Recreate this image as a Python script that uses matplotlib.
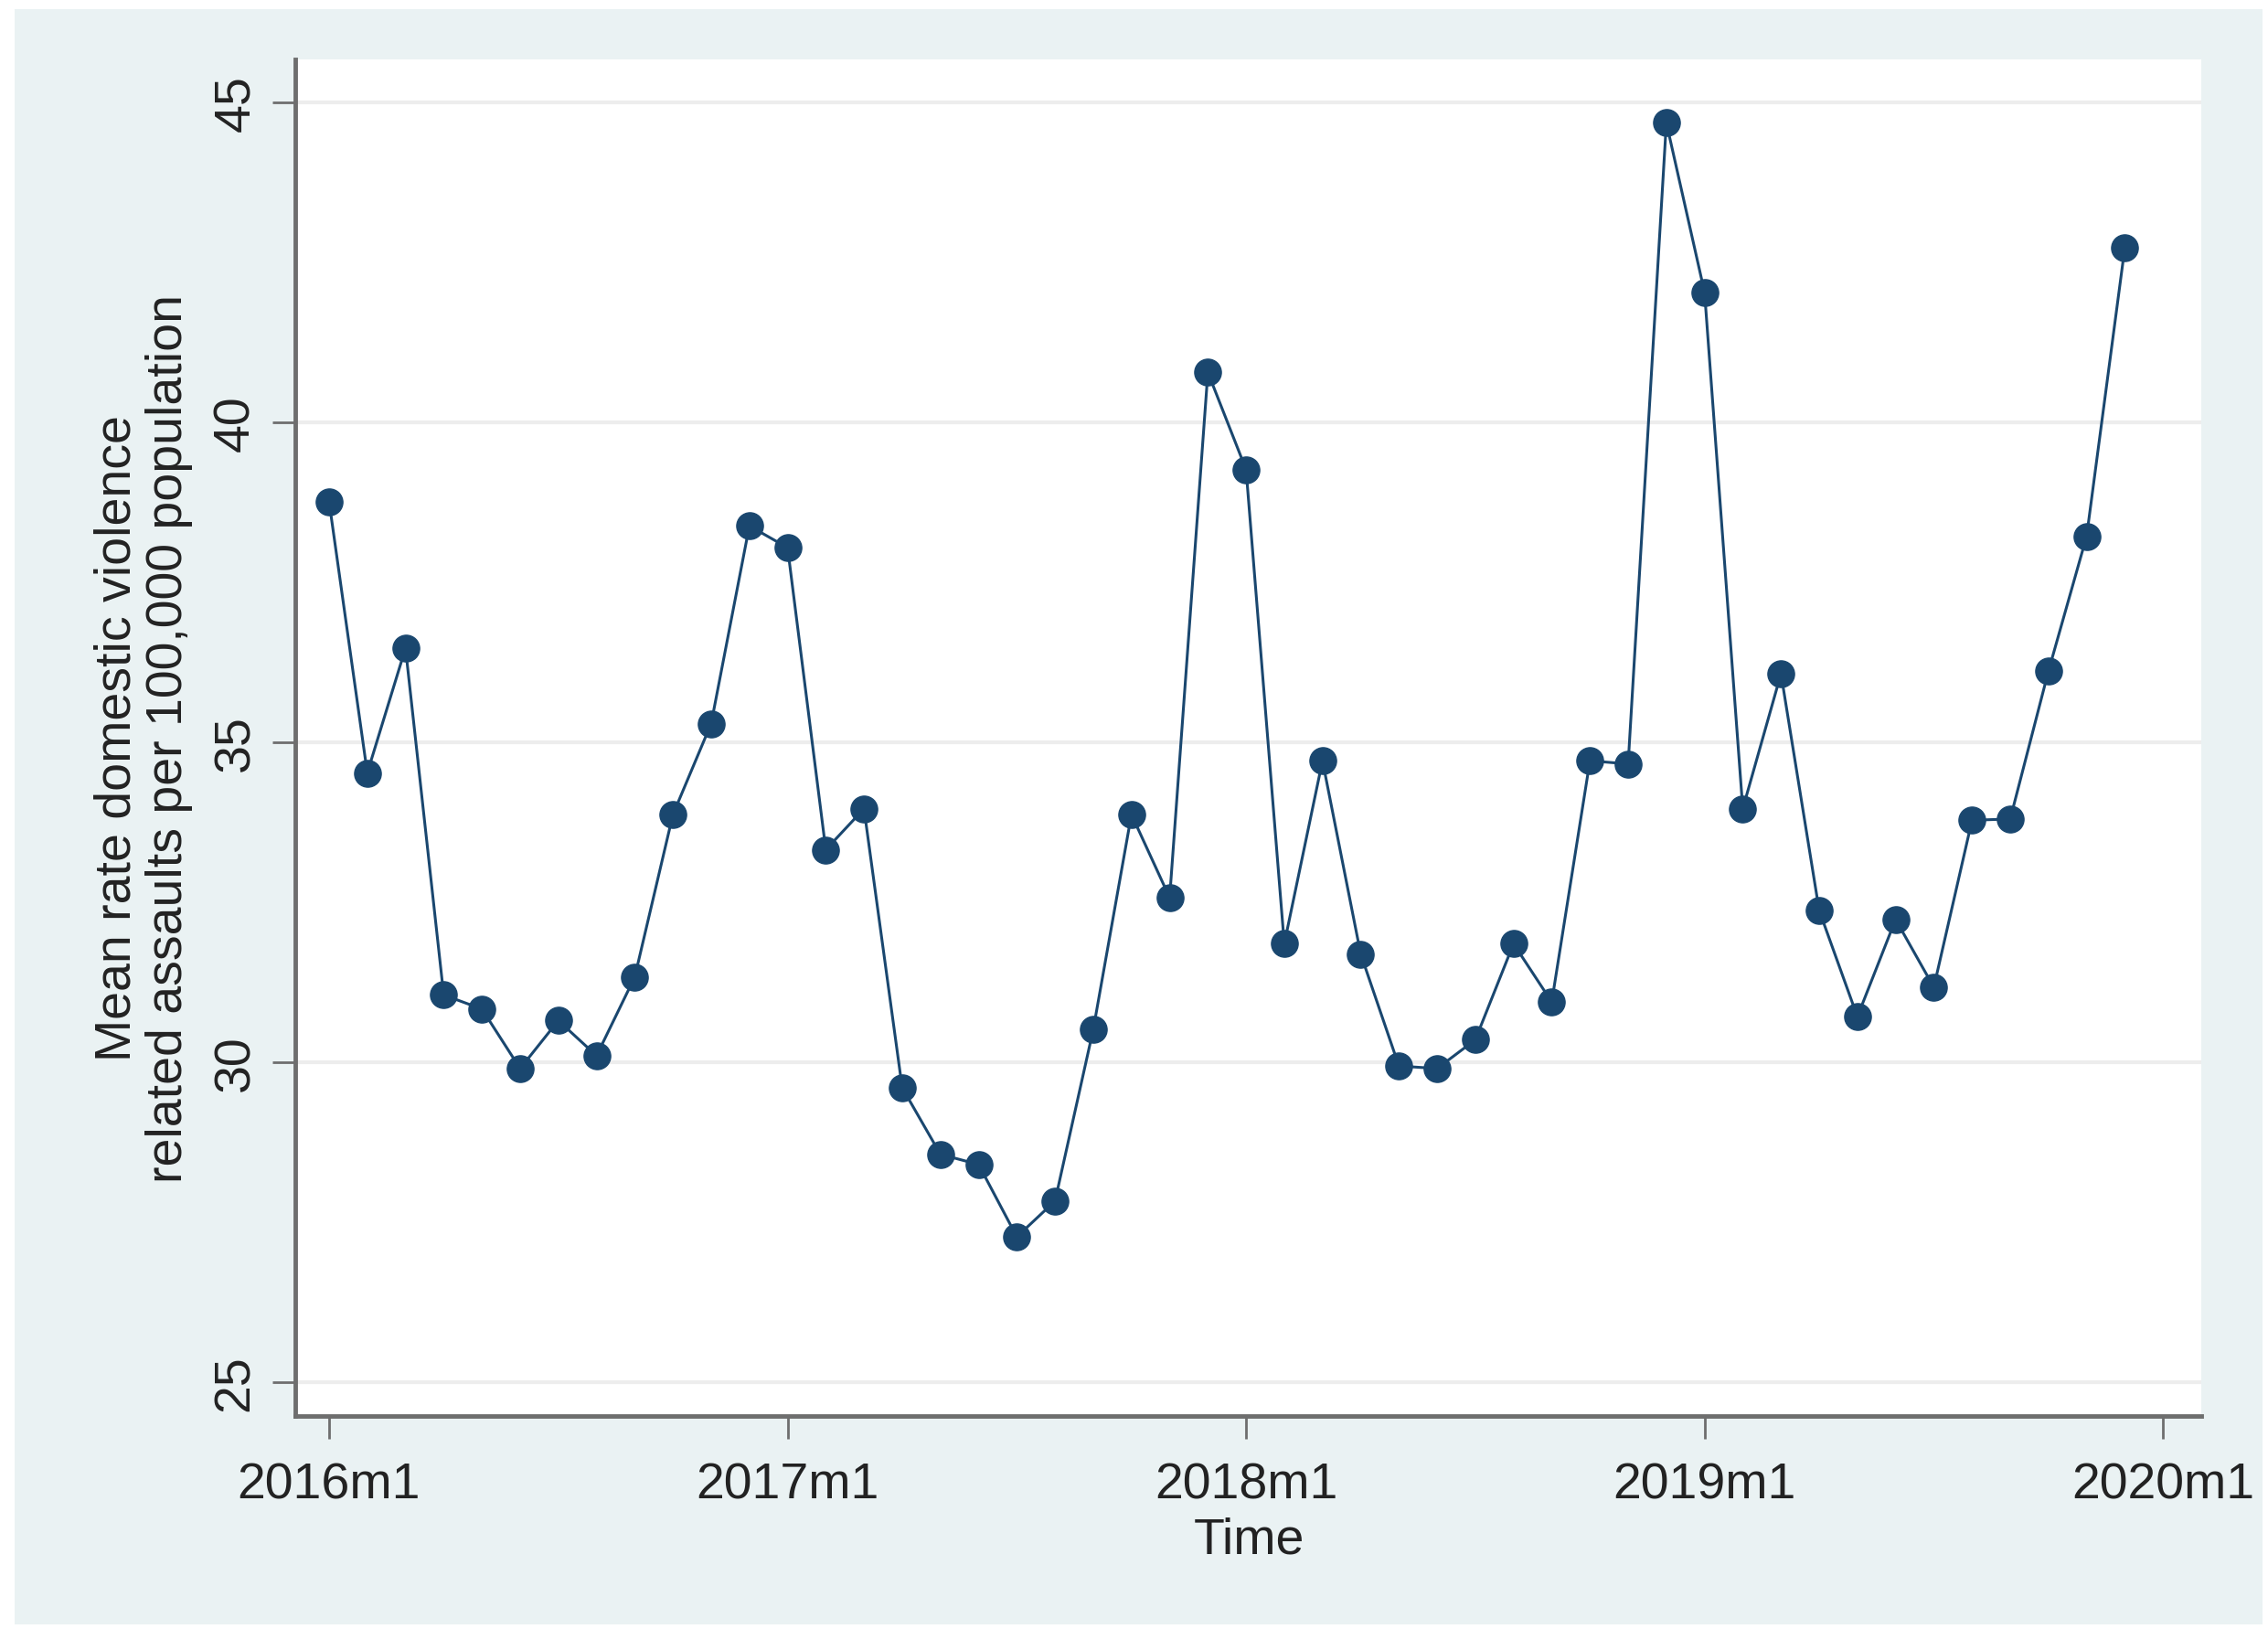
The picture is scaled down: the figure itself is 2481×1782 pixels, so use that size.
import matplotlib
matplotlib.use("Agg")
import matplotlib.pyplot as plt
from matplotlib.patches import Rectangle

# monthly series, 2016m1 .. 2019m12
months = [f"{y}m{m}" for y in range(2016, 2020) for m in range(1, 13)]
rate = [
    38.76, 34.52, 36.47, 31.05, 30.83, 29.90, 30.65, 30.10, 31.33, 33.87, 35.29, 38.38,
    38.04, 33.32, 33.96, 29.60, 28.56, 28.40, 27.27, 27.83, 30.51, 33.87, 32.57, 40.78,
    39.26, 31.85, 34.71, 31.69, 29.94, 29.90, 30.35, 31.85, 30.94, 34.71, 34.66, 44.68,
    42.03, 33.96, 36.07, 32.37, 30.71, 32.23, 31.17, 33.78, 33.80, 36.11, 38.22, 42.73,
]
xtick_pos = [0, 12, 24, 36, 48]
xtick_labels = ["2016m1", "2017m1", "2018m1", "2019m1", "2020m1"]
ytick_vals = [25, 30, 35, 40, 45]

navy = "#1A476F"
bg = "#EAF2F3"
plt.rcParams["font.family"] = ["Liberation Sans", "DejaVu Sans"]

fig = plt.figure(figsize=(24.81, 17.83), dpi=100)
fig.patch.set_facecolor("white")
fig.patches.append(Rectangle((16 / 2481, 5 / 1783), (2475 - 16) / 2481, (1772 - 5) / 1783,
                             transform=fig.transFigure, facecolor=bg, edgecolor="none", zorder=-10))

ax = fig.add_axes([323 / 2481, 1 - 1550 / 1783, (2408 - 323) / 2481, (1550 - 66) / 1783])
ax.set_facecolor("white")
ax.set_zorder(1)

x = list(range(len(rate)))
ax.plot(x, rate, color=navy, linewidth=2.2, marker="o", markersize=21,
        markerfacecolor=navy, markeredgecolor=navy, zorder=3)

ax.set_xlim(-0.885, 49.0)
ax.set_ylim(24.47, 45.67)
ax.set_yticks(ytick_vals)
ax.set_yticklabels([str(v) for v in ytick_vals], rotation=90, va="center")
ax.set_xticks(xtick_pos)
ax.set_xticklabels(xtick_labels)

ax.grid(axis="y", color="#EDEDED", linewidth=3)
ax.set_axisbelow(True)

for s in ["top", "right"]:
    ax.spines[s].set_visible(False)
for s in ["left", "bottom"]:
    ax.spines[s].set_color("#6E6E6E")
    ax.spines[s].set_linewidth(3.5)

ax.tick_params(axis="both", length=18, width=2, color="#6E6E6E",
               labelsize=40, labelcolor="#222222")
ax.tick_params(axis="x", pad=18)
ax.tick_params(axis="y", pad=10)

fig.text(157 / 2481, 1 - 808 / 1783,
         "Mean rate domestic violence\nrelated assaults per 100,000 population",
         rotation=90, ha="center", va="center", multialignment="center",
         fontsize=40, color="#222222", linespacing=1.1)
fig.text(1366 / 2481, 1 - 1700 / 1783, "Time", ha="center", va="baseline",
         fontsize=40, color="#222222")

fig.savefig("out.png", dpi=100)
